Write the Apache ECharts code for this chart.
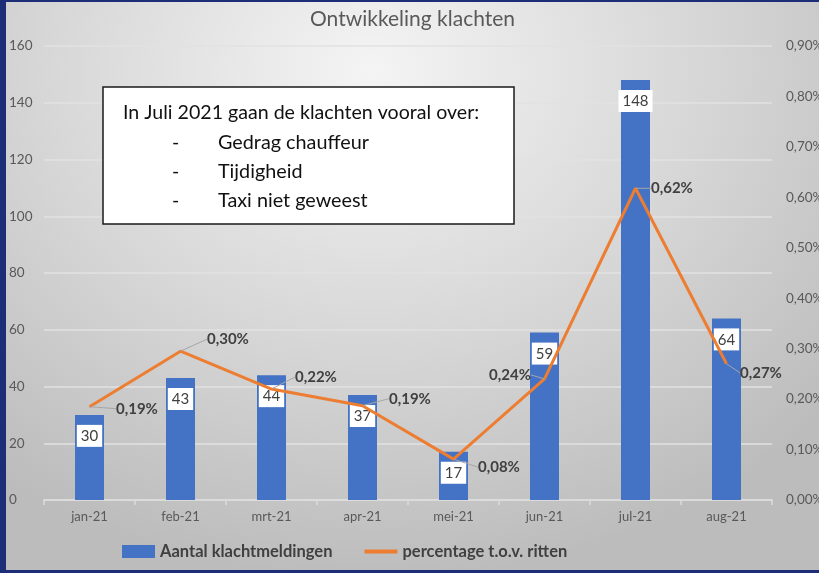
<!DOCTYPE html>
<html>
<head>
<meta charset="utf-8">
<script src="https://cdn.jsdelivr.net/npm/echarts@6/dist/echarts.min.js"></script>
<style>
  html, body { margin: 0; padding: 0; }
  body { width: 819px; height: 573px; background: #1e2d78; position: relative; overflow: hidden; }
  #chart { position: absolute; left: 6px; top: 2px; width: 813px; height: 568px;
    background: radial-gradient(ellipse 75% 90% at 45% 12%, #f4f4f4 0%, #d6d6d6 55%, #bcbcbc 100%); }
</style>
</head>
<body>
<div id="chart"></div>
<script>
var categories = ['jan-21', 'feb-21', 'mrt-21', 'apr-21', 'mei-21', 'jun-21', 'jul-21', 'aug-21'];
var klachten = [30, 43, 44, 37, 17, 59, 148, 64];
var percentage = [0.185, 0.295, 0.22, 0.187, 0.081, 0.24, 0.618, 0.27];
var percentageLabels = ['0,19%', '0,30%', '0,22%', '0,19%', '0,08%', '0,24%', '0,62%', '0,27%'];
var noteTitle = 'In Juli 2021 gaan de klachten vooral over:';
var noteItems = ['Gedrag chauffeur', 'Tijdigheid', 'Taxi niet geweest'];

var labelSide = ['right', 'right', 'right', 'right', 'right', 'left', 'right', 'right'];
var labelShift = [[21, 2], [21, -12], [18, -12], [21, -7], [19, 8], [-8, -4], [10, 0], [8, 9]];

var font = 'Lato, "Open Sans", sans-serif';
var chart = echarts.init(document.getElementById('chart'), null, { renderer: 'canvas' });

var noteGraphics = [
  { type: 'rect', shape: { x: 97, y: 85, width: 411, height: 137 },
    style: { fill: '#ffffff', stroke: '#1a1a1a', lineWidth: 1.5 }, z: 100 },
  { type: 'text', x: 117, y: 111, z: 101,
    style: { text: noteTitle, font: '19.6px ' + font, fill: '#111', textVerticalAlign: 'middle' } }
];
noteItems.forEach(function (t, i) {
  noteGraphics.push({ type: 'text', x: 166, y: 141 + i * 29, z: 101,
    style: { text: '-', font: '19.6px ' + font, fill: '#111', textVerticalAlign: 'middle' } });
  noteGraphics.push({ type: 'text', x: 212, y: 141 + i * 29, z: 101,
    style: { text: t, font: '19.8px ' + font, fill: '#111', textVerticalAlign: 'middle' } });
});

var option = {
  backgroundColor: 'transparent',
  animation: false,
  title: {
    text: 'Ontwikkeling klachten', left: 'center', top: 2,
    textStyle: { fontFamily: font, fontSize: 21, fontWeight: 'normal', color: '#595959' }
  },
  grid: { left: 38, right: 47, top: 44, bottom: 70, containLabel: false, outerBoundsMode: 'none' },
  legend: {
    left: 116, top: 541, padding: 0, itemWidth: 33, itemHeight: 13, itemGap: 32,
    textStyle: { fontFamily: font, fontSize: 16.5, fontWeight: 'bold', color: '#404040' },
    data: [
      { name: 'Aantal klachtmeldingen', icon: 'rect' },
      { name: 'percentage t.o.v. ritten', icon: 'path://M0,4.5L33,4.5L33,8.5L0,8.5Z' }
    ]
  },
  xAxis: {
    type: 'category', data: categories,
    axisLine: { lineStyle: { color: '#dcdcdc', width: 1.5 } },
    axisTick: { show: true, length: 5, lineStyle: { color: '#dcdcdc', width: 1.5 } },
    axisLabel: { fontFamily: font, fontSize: 13, color: '#595959', margin: 10 }
  },
  yAxis: [
    { type: 'value', min: 0, max: 160, interval: 20,
      axisLine: { show: false }, axisTick: { show: false },
      axisLabel: { fontFamily: font, fontSize: 13.5, color: '#595959', align: 'left', margin: 35 },
      splitLine: { lineStyle: { color: '#e2e2e2', width: 1.5 } } },
    { type: 'value', min: 0, max: 0.9, interval: 0.1, position: 'right',
      axisLine: { show: false }, axisTick: { show: false }, splitLine: { show: false },
      axisLabel: { fontFamily: font, fontSize: 13.5, color: '#595959', margin: 14,
        formatter: function (v) { return v.toFixed(2).replace('.', ',') + '%'; } } }
  ],
  series: [
    { name: 'Aantal klachtmeldingen', type: 'bar', data: klachten, barWidth: 29,
      itemStyle: { color: '#4472c4' },
      label: { show: true, position: 'insideTop', distance: 10,
        backgroundColor: '#ffffff', padding: [4, 4, 3, 4],
        fontFamily: font, fontSize: 15, color: '#404040' } },
    { name: 'percentage t.o.v. ritten', type: 'line', yAxisIndex: 1,
      data: percentage.map(function (v, i) {
        return { value: v, label: { position: labelSide[i] } };
      }),
      symbol: 'circle', symbolSize: 1,
      itemStyle: { color: '#ed7d31' },
      lineStyle: { color: '#ed7d31', width: 3 },
      z: 5,
      label: { show: true, distance: 5, fontFamily: font, fontSize: 15, fontWeight: 'bold', color: '#404040',
        formatter: function (p) { return percentageLabels[p.dataIndex]; } },
      labelLine: { show: true, lineStyle: { color: '#a6a6a6', width: 1 } },
      labelLayout: function (p) {
        var s = labelShift[p.dataIndex];
        return { dx: s[0], dy: s[1] };
      }
    }
  ],
  graphic: noteGraphics
};
chart.setOption(option);
</script>
</body>
</html>
